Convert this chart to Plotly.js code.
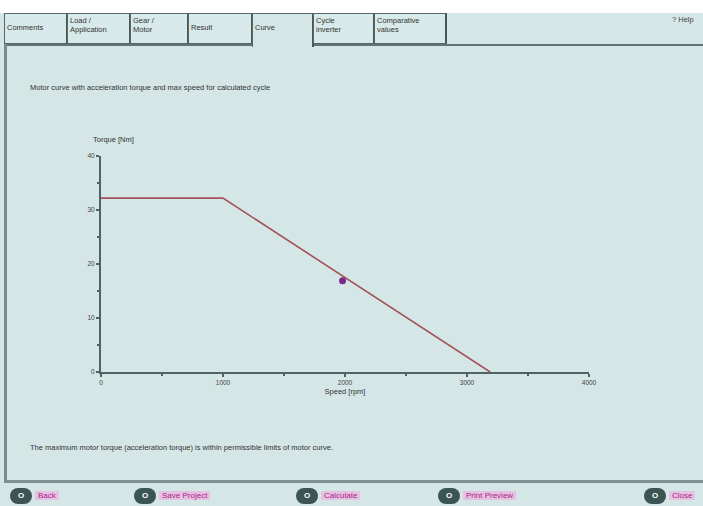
<!DOCTYPE html>
<html>
<head>
<meta charset="utf-8">
<script src="https://cdn.plot.ly/plotly-3.0.1.min.js"></script>
<style>
  html, body { margin:0; padding:0; width:703px; height:506px; overflow:hidden; background:#d4e6e6; font-family:"Liberation Sans", Arial, sans-serif; }
  #top { position:absolute; left:0; top:0; width:703px; height:13px; background:#ffffff; }
  .tab { position:absolute; top:13px; height:31px; background:#d8e9e9; border:1px solid #55696a; border-right:2px solid #46595a; box-sizing:border-box; font-size:7.5px; color:#333; padding:2px 2px; line-height:9px; }
  .tab.active { height:34px; border-bottom:none; background:#d4e6e6; padding-top:9px; }
  #tabline { position:absolute; left:4px; top:44px; width:699px; height:2px; background:#617474; }
  #leftline { position:absolute; left:4px; top:44px; width:3px; height:439px; background:#7a8c8c; }
  #bottomline { position:absolute; left:4px; top:480px; width:699px; height:3px; background:#7d8f8f; }
  #help { position:absolute; left:672px; top:15px; font-size:7.5px; color:#444; }
  .txt { position:absolute; font-size:7.5px; color:#333; white-space:nowrap; }
  .btn { position:absolute; top:488px; height:16px; border-radius:8px; font-size:8px; line-height:16px; color:#b0208a; white-space:nowrap; }
  .btn .ic { display:inline-block; width:22px; height:16px; border-radius:8px; background:#3c5454; color:#fff; text-align:center; font-weight:bold; margin-right:3px; vertical-align:top; }
  .btn .lb { background:#e3c3e0; padding:0 3px; }
  #chart { position:absolute; left:0; top:0; width:703px; height:506px; }
</style>
</head>
<body>
<div id="top"></div>
<div id="tabline"></div>
<div class="tab" style="left:4px;width:64px;padding-top:9px;">Comments</div>
<div class="tab" style="left:67px;width:64px;">Load /<br>Application</div>
<div class="tab" style="left:130px;width:59px;">Gear /<br>Motor</div>
<div class="tab" style="left:188px;width:65px;padding-top:9px;">Result</div>
<div class="tab active" style="left:252px;width:62px;">Curve</div>
<div class="tab" style="left:313px;width:62px;">Cycle<br>inverter</div>
<div class="tab" style="left:374px;width:73px;">Comparative<br>values</div>
<div id="help">? Help</div>
<div id="leftline"></div>
<div id="bottomline"></div>
<div class="txt" style="left:30px;top:83px;">Motor curve with acceleration torque and max speed for calculated cycle</div>
<div class="txt" style="left:30px;top:443px;">The maximum motor torque (acceleration torque) is within permissible limits of motor curve.</div>
<div class="btn" style="left:10px;"><span class="ic">O</span><span class="lb">Back</span></div>
<div class="btn" style="left:134px;"><span class="ic">O</span><span class="lb">Save Project</span></div>
<div class="btn" style="left:296px;"><span class="ic">O</span><span class="lb">Calculate</span></div>
<div class="btn" style="left:438px;"><span class="ic">O</span><span class="lb">Print Preview</span></div>
<div class="btn" style="left:644px;"><span class="ic">O</span><span class="lb">Close</span></div>
<div id="chart"></div>
<script>
// Motor curve (speed in rpm, torque in Nm)
var curveSpeed = [0, 1000, 3190];
var curveTorque = [32.2, 32.2, 0];
// Operating point of calculated cycle
var pointSpeed = [1980];
var pointTorque = [16.9];
var xTickVals = [0, 1000, 2000, 3000, 4000];
var yTickVals = [0, 10, 20, 30, 40];

var axisColor = '#4f6363';
var traces = [
  { x: curveSpeed, y: curveTorque, type: 'scatter', mode: 'lines',
    line: { color: '#a4525a', width: 1.6 }, hoverinfo: 'skip' },
  { x: pointSpeed, y: pointTorque, type: 'scatter', mode: 'markers',
    marker: { color: '#7a2a8c', size: 7, symbol: 'circle' }, hoverinfo: 'skip' }
];
var layout = {
  width: 703, height: 506,
  margin: { l: 101, r: 114, t: 156, b: 134, pad: 0 },
  paper_bgcolor: 'rgba(0,0,0,0)', plot_bgcolor: 'rgba(0,0,0,0)',
  showlegend: false,
  font: { family: 'Liberation Sans, Arial, sans-serif', size: 7, color: '#333' },
  xaxis: {
    range: [0, 4000], tickvals: xTickVals, ticktext: xTickVals.map(String),
    showgrid: false, zeroline: false, showline: true, linecolor: axisColor, linewidth: 2,
    ticks: 'outside', ticklen: 3, tickcolor: axisColor, tickwidth: 2,
    minor: { dtick: 500, ticks: 'outside', ticklen: 2, tickcolor: axisColor, tickwidth: 2 },
    tickfont: { size: 6.5, color: '#444' },
    title: { text: 'Speed [rpm]', font: { size: 7.5, color: '#333' }, standoff: 4 },
    fixedrange: true
  },
  yaxis: {
    range: [0, 40], tickvals: yTickVals, ticktext: yTickVals.map(String),
    showgrid: false, zeroline: false, showline: true, linecolor: axisColor, linewidth: 2,
    ticks: 'outside', ticklen: 3, tickcolor: axisColor, tickwidth: 2,
    minor: { dtick: 5, ticks: 'outside', ticklen: 2, tickcolor: axisColor, tickwidth: 2 },
    tickfont: { size: 6.5, color: '#444' },
    fixedrange: true
  },
  annotations: [
    { text: 'Torque [Nm]', xref: 'paper', yref: 'paper', x: -0.02, y: 1.0, yshift: 10,
      xanchor: 'left', yanchor: 'bottom', showarrow: false, font: { size: 7.5, color: '#333' } }
  ]
};
Plotly.newPlot('chart', traces, layout, { staticPlot: true, displayModeBar: false });
</script>
</body>
</html>
